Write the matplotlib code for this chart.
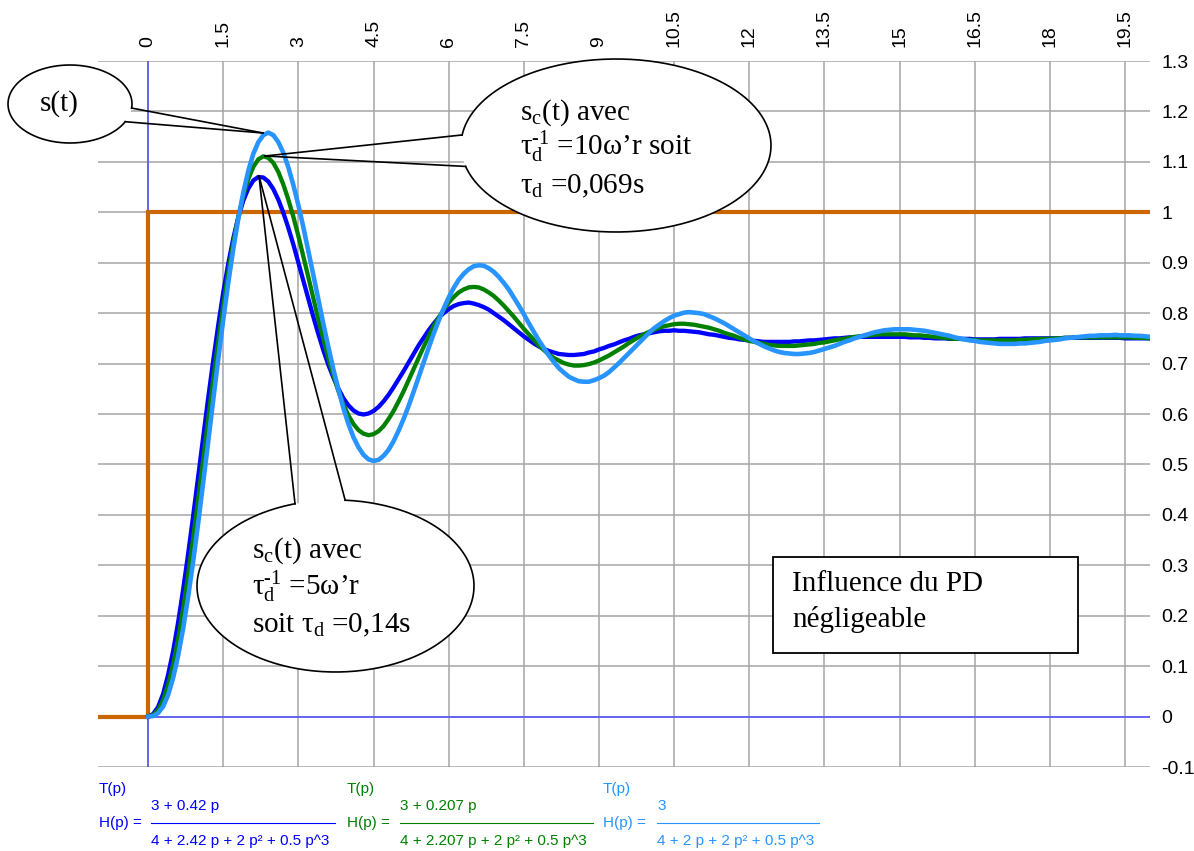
import numpy as np
import matplotlib
matplotlib.use("Agg")
import matplotlib.pyplot as plt
from matplotlib.patches import Ellipse, Rectangle

plt.rcParams["font.family"] = ["Liberation Sans", "DejaVu Sans"]
plt.rcParams["mathtext.fontset"] = "custom"
plt.rcParams["mathtext.rm"] = "Liberation Serif"
plt.rcParams["mathtext.it"] = "Liberation Serif:italic"

# ---- data -------------------------------------------------------------
dt = 0.1  # sampling period of the responses, s

s_pd_014 = [  # blue : tau_d = 0,14 s
    0.000, 0.005, 0.019, 0.045, 0.083, 0.130, 0.187, 0.252, 0.323, 0.398, 0.476, 0.555, 0.632, 0.706, 0.776, 0.841, 0.898, 0.948, 0.990, 1.023,
    1.047, 1.063, 1.070, 1.069, 1.061, 1.046, 1.025, 0.999, 0.969, 0.936, 0.900, 0.864, 0.828, 0.792, 0.758, 0.726, 0.697, 0.672, 0.650, 0.631,
    0.617, 0.607, 0.601, 0.599, 0.601, 0.606, 0.614, 0.625, 0.638, 0.653, 0.669, 0.685, 0.702, 0.719, 0.736, 0.751, 0.766, 0.779, 0.791, 0.800,
    0.808, 0.814, 0.818, 0.820, 0.821, 0.819, 0.816, 0.812, 0.807, 0.800, 0.793, 0.786, 0.778, 0.770, 0.762, 0.754, 0.747, 0.740, 0.734, 0.729,
    0.725, 0.722, 0.719, 0.718, 0.717, 0.717, 0.718, 0.719, 0.722, 0.724, 0.728, 0.731, 0.735, 0.738, 0.742, 0.746, 0.749, 0.753, 0.756, 0.758,
    0.760, 0.762, 0.764, 0.765, 0.765, 0.766, 0.765, 0.765, 0.764, 0.763, 0.762, 0.760, 0.758, 0.757, 0.755, 0.753, 0.751, 0.750, 0.748, 0.747,
    0.746, 0.745, 0.744, 0.743, 0.743, 0.743, 0.743, 0.743, 0.743, 0.744, 0.744, 0.745, 0.746, 0.746, 0.747, 0.748, 0.749, 0.750, 0.750, 0.751,
    0.752, 0.752, 0.753, 0.753, 0.753, 0.753, 0.753, 0.753, 0.753, 0.753, 0.753, 0.753, 0.752, 0.752, 0.752, 0.751, 0.751, 0.750, 0.750, 0.750,
    0.749, 0.749, 0.749, 0.749, 0.749, 0.748, 0.748, 0.748, 0.748, 0.748, 0.749, 0.749, 0.749, 0.749, 0.749, 0.750, 0.750, 0.750, 0.750, 0.750,
    0.750, 0.750, 0.750, 0.751, 0.751, 0.751, 0.751, 0.751, 0.751, 0.751, 0.751, 0.751, 0.751, 0.751, 0.751, 0.750, 0.750, 0.750, 0.750, 0.750,
    0.750]

s_pd_0069 = [  # green : tau_d = 0,069 s
    0.000, 0.003, 0.013, 0.033, 0.063, 0.103, 0.154, 0.214, 0.281, 0.354, 0.431, 0.510, 0.590, 0.669, 0.744, 0.815, 0.881, 0.940, 0.990, 1.033,
    1.066, 1.090, 1.105, 1.111, 1.108, 1.098, 1.080, 1.055, 1.025, 0.991, 0.953, 0.912, 0.871, 0.829, 0.787, 0.748, 0.710, 0.676, 0.645, 0.619,
    0.597, 0.580, 0.568, 0.561, 0.558, 0.560, 0.566, 0.576, 0.590, 0.606, 0.625, 0.645, 0.667, 0.689, 0.711, 0.733, 0.754, 0.774, 0.791, 0.807,
    0.821, 0.832, 0.841, 0.847, 0.851, 0.852, 0.851, 0.847, 0.841, 0.834, 0.825, 0.815, 0.804, 0.793, 0.781, 0.769, 0.758, 0.747, 0.736, 0.727,
    0.718, 0.711, 0.706, 0.701, 0.698, 0.696, 0.696, 0.697, 0.699, 0.702, 0.706, 0.711, 0.716, 0.722, 0.728, 0.734, 0.741, 0.747, 0.753, 0.758,
    0.763, 0.767, 0.771, 0.774, 0.776, 0.778, 0.779, 0.779, 0.778, 0.777, 0.775, 0.773, 0.771, 0.768, 0.765, 0.761, 0.758, 0.755, 0.751, 0.748,
    0.745, 0.743, 0.741, 0.739, 0.737, 0.736, 0.735, 0.735, 0.735, 0.735, 0.736, 0.737, 0.738, 0.739, 0.741, 0.742, 0.744, 0.746, 0.748, 0.749,
    0.751, 0.753, 0.754, 0.755, 0.756, 0.757, 0.758, 0.758, 0.758, 0.758, 0.758, 0.758, 0.757, 0.756, 0.756, 0.755, 0.754, 0.753, 0.752, 0.751,
    0.750, 0.749, 0.749, 0.748, 0.747, 0.747, 0.746, 0.746, 0.746, 0.746, 0.746, 0.746, 0.746, 0.746, 0.747, 0.747, 0.748, 0.748, 0.749, 0.749,
    0.749, 0.750, 0.750, 0.751, 0.751, 0.752, 0.752, 0.752, 0.752, 0.752, 0.752, 0.752, 0.752, 0.752, 0.752, 0.752, 0.752, 0.751, 0.751, 0.751,
    0.750]

s_uncorrected = [  # light blue : s(t)
    0.000, 0.001, 0.007, 0.020, 0.043, 0.077, 0.121, 0.175, 0.238, 0.308, 0.384, 0.464, 0.545, 0.628, 0.709, 0.787, 0.860, 0.927, 0.987, 1.039,
    1.082, 1.116, 1.139, 1.153, 1.158, 1.153, 1.139, 1.118, 1.089, 1.054, 1.014, 0.970, 0.923, 0.875, 0.826, 0.778, 0.732, 0.688, 0.648, 0.611,
    0.580, 0.554, 0.534, 0.519, 0.510, 0.507, 0.509, 0.517, 0.529, 0.546, 0.567, 0.590, 0.616, 0.644, 0.673, 0.702, 0.731, 0.759, 0.785, 0.809,
    0.831, 0.850, 0.866, 0.878, 0.887, 0.893, 0.895, 0.894, 0.889, 0.882, 0.872, 0.860, 0.847, 0.831, 0.815, 0.798, 0.780, 0.763, 0.746, 0.731,
    0.716, 0.703, 0.691, 0.682, 0.674, 0.669, 0.665, 0.664, 0.664, 0.667, 0.671, 0.676, 0.683, 0.692, 0.701, 0.711, 0.721, 0.731, 0.741, 0.751,
    0.761, 0.770, 0.777, 0.784, 0.790, 0.795, 0.798, 0.801, 0.802, 0.801, 0.800, 0.798, 0.794, 0.790, 0.785, 0.780, 0.774, 0.768, 0.762, 0.756,
    0.750, 0.744, 0.739, 0.734, 0.730, 0.726, 0.723, 0.721, 0.720, 0.719, 0.719, 0.720, 0.721, 0.723, 0.726, 0.729, 0.732, 0.735, 0.739, 0.743,
    0.746, 0.750, 0.753, 0.756, 0.759, 0.762, 0.764, 0.766, 0.767, 0.768, 0.768, 0.768, 0.768, 0.767, 0.766, 0.765, 0.763, 0.761, 0.759, 0.757,
    0.755, 0.752, 0.750, 0.748, 0.746, 0.745, 0.743, 0.742, 0.741, 0.740, 0.739, 0.739, 0.739, 0.739, 0.740, 0.740, 0.741, 0.742, 0.743, 0.745,
    0.746, 0.747, 0.748, 0.750, 0.751, 0.752, 0.753, 0.754, 0.755, 0.755, 0.756, 0.756, 0.756, 0.757, 0.756, 0.756, 0.756, 0.755, 0.755, 0.754,
    0.753]

step_t = [-1, 0, 0, 20]
step_v = [0, 0, 1, 1]

x_ticks = [0, 1.5, 3, 4.5, 6, 7.5, 9, 10.5, 12, 13.5, 15, 16.5, 18, 19.5]
x_labels = ["0", "1.5", "3", "4.5", "6", "7.5", "9", "10.5", "12", "13.5", "15", "16.5", "18", "19.5"]
y_ticks = [-0.1, 0, 0.1, 0.2, 0.3, 0.4, 0.5, 0.6, 0.7, 0.8, 0.9, 1.0, 1.1, 1.2, 1.3]
y_labels = ["-0.1", "0", "0.1", "0.2", "0.3", "0.4", "0.5", "0.6", "0.7", "0.8", "0.9", "1", "1.1", "1.2", "1.3"]

C_BLUE = "#0000FF"
C_GREEN = "#008000"
C_LIGHT = "#2894FF"
C_STEP = "#CC6600"
C_AXIS = "#5050FF"
C_GRID = "#A6A6A6"


def times(series):
    return [round(i * dt, 2) for i in range(len(series))]


# ---- figure -------------------------------------------------------------
W, H = 1194, 851
fig = plt.figure(figsize=(W / 100, H / 100), dpi=100)
ax = fig.add_axes([98 / W, 1 - 767 / H, (1150 - 98) / W, (767 - 61) / H])
ax.set_xlim(-1, 20)
ax.set_ylim(-0.1, 1.3)
for sp in ax.spines.values():
    sp.set_visible(False)

ax.set_xticks(x_ticks)
ax.set_xticklabels(x_labels)
ax.set_yticks(y_ticks)
ax.set_yticklabels(y_labels)
ax.xaxis.tick_top()
ax.yaxis.tick_right()
ax.tick_params(axis="x", length=0, pad=10, labelsize=14, labelrotation=90)
ax.tick_params(axis="y", length=0, pad=8, labelsize=14)
ax.grid(True, color=C_GRID, lw=1.1)
ax.set_axisbelow(True)

# axes through the origin
ax.axvline(0, color=C_AXIS, lw=1.1, zorder=2)
ax.plot([0, 20], [0, 0], color=C_AXIS, lw=1.1, zorder=2)

ax.plot(step_t, step_v, color=C_STEP, lw=3.0, zorder=3, solid_joinstyle="miter")
ax.plot(times(s_pd_014), s_pd_014, color=C_BLUE, lw=3.1, zorder=4)
ax.plot(times(s_pd_0069), s_pd_0069, color=C_GREEN, lw=3.1, zorder=5)
ax.plot(times(s_uncorrected), s_uncorrected, color=C_LIGHT, lw=3.3, zorder=6)

# ---- callouts (figure pixel space) ---------------------------------------
ov = fig.add_axes([0, 0, 1, 1], zorder=10)
ov.set_xlim(0, W)
ov.set_ylim(H, 0)
ov.axis("off")


def callout(cx, cy, a, b, th_lo, th_hi, tip):
    ov.add_patch(Ellipse((cx, cy), 2 * a, 2 * b, facecolor="white", edgecolor="none", zorder=1))
    th = np.radians(np.linspace(th_hi, th_lo + 360, 300))
    ov.plot(cx + a * np.cos(th), cy + b * np.sin(th), color="black", lw=1.2, zorder=2)
    for ang in (th_lo, th_hi):
        r = np.radians(ang)
        ov.plot([cx + a * np.cos(r), tip[0]], [cy + b * np.sin(r), tip[1]],
                color="black", lw=1.2, zorder=2)


serif = ["Liberation Serif", "DejaVu Serif"]
FS = 21
TAU_INV = r"τ$_{\rm d}^{\text{-1}}$"
TAU = r"τ$_{\rm d}$"

callout(70, 104, 62, 39, 6, 27, (263, 133))
ov.text(40, 104, "s(t)", family=serif, fontsize=FS, va="center", ha="left", zorder=3)

callout(616, 145.5, 155, 86.5, 166, 187, (265, 156))
ov.text(520, 120, r"s$_{\rm c}$(t) avec", family=serif, fontsize=FS, va="baseline", zorder=3)
ov.text(520, 155, TAU_INV + " =10ω’r soit", family=serif, fontsize=FS, va="baseline", zorder=3)
ov.text(520, 193, TAU + " =0,069s", family=serif, fontsize=FS, va="baseline", zorder=3)

callout(335.5, 586, 138.5, 86, -107, -86, (259, 176))
ov.text(252, 558, r"s$_{\rm c}$(t) avec", family=serif, fontsize=FS, va="baseline", zorder=3)
ov.text(252, 595, TAU_INV + " =5ω’r", family=serif, fontsize=FS, va="baseline", zorder=3)
ov.text(252, 632, "soit " + TAU + " =0,14s", family=serif, fontsize=FS, va="baseline", zorder=3)

ov.add_patch(Rectangle((773, 557), 305, 96, facecolor="white", edgecolor="black", lw=1.3, zorder=1))
ov.text(792, 591, "Influence du PD", family=serif, fontsize=FS, va="baseline", zorder=3)
ov.text(792, 627, "négligeable", family=serif, fontsize=FS, va="baseline", zorder=3)

# ---- transfer functions under the plot ---------------------------------
tf_blocks = [
    (99, 151, 335, "3 + 0.42 p", "4 + 2.42 p + 2 p² + 0.5 p^3", C_BLUE),
    (347, 400, 593, "3 + 0.207 p", "4 + 2.207 p + 2 p² + 0.5 p^3", C_GREEN),
    (603, 657, 819, "3", "4 + 2 p + 2 p² + 0.5 p^3", C_LIGHT),
]
for x0, xf, xe, num, den, col in tf_blocks:
    ov.text(x0, 789, "T(p)", color=col, fontsize=11, va="center", ha="left")
    ov.text(x0, 823, "H(p) =", color=col, fontsize=11, va="center", ha="left")
    ov.text(xf, 806, num, color=col, fontsize=11, va="center", ha="left")
    ov.plot([xf, xe], [823, 823], color=col, lw=0.8)
    ov.text(xf, 841, den, color=col, fontsize=11, va="center", ha="left")

fig.savefig("out.png", dpi=100, facecolor="white")
